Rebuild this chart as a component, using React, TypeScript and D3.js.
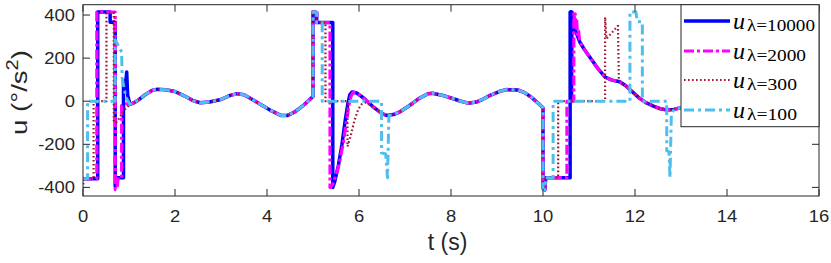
import React from "react";
import * as d3 from "d3";

type Pt = [number, number];

// x / y ticks
const xTicks = [0, 2, 4, 6, 8, 10, 12, 14, 16];
const yTicks = [-400, -200, 0, 200, 400];

// smooth response shared by every controller between the switching events
const baseA: Pt[] = [
  [1.02, -15], [1.1, -8], [1.2, 5], [1.35, 30], [1.5, 50], [1.6, 55], [1.8, 53],
  [2.0, 45], [2.2, 25], [2.4, 2], [2.55, -7], [2.75, -4], [3.0, 8], [3.2, 27],
  [3.35, 35], [3.5, 30], [3.7, 6], [3.9, -20], [4.1, -45], [4.3, -66], [4.45, -66],
  [4.6, -50], [4.8, -18], [4.95, 12], [5.0, 22],
];
const baseB: Pt[] = [
  [5.85, 43], [5.95, 38], [6.1, 15], [6.3, -25], [6.5, -58], [6.6, -66], [6.75, -62],
  [6.9, -48], [7.1, -20], [7.3, 12], [7.5, 35], [7.6, 37], [7.8, 28], [8.0, 15],
  [8.2, 1], [8.37, -9], [8.55, -4], [8.7, 10], [8.85, 27], [9.05, 45], [9.2, 54],
  [9.45, 52], [9.6, 40], [9.75, 18], [9.9, -10], [10.0, -30],
];
const baseC: Pt[] = [
  [10.8, 275], [10.9, 240], [11.0, 210], [11.2, 150], [11.35, 112], [11.5, 98],
  [11.67, 90], [11.8, 72], [11.9, 52], [12.1, 13], [12.25, -8], [12.4, -23],
  [12.55, -35], [12.7, -41], [12.85, -38], [13.0, -30], [13.3, -18], [13.6, -10],
];

// lambda = 10000
const blueStart: Pt[] = [
  [0, -360], [0.32, -360], [0.32, 414], [0.59, 414], [0.59, 366], [0.7, 366], [0.7, -395],
  [0.73, -355], [0.88, -355], [0.88, 95], [0.92, 60], [0.95, 136], [0.97, 30], [1.02, -15],
];
const blueMid: Pt[] = [
  [5.0, 22], [5.0, 415], [5.08, 412], [5.08, 365], [5.43, 365], [5.43, -400], [5.47, -375],
  [5.55, -300], [5.63, -200], [5.7, -90], [5.76, -10], [5.8, 30], [5.85, 43],
];
const blueLate: Pt[] = [
  [10.0, -30], [10.0, -405], [10.04, -412], [10.06, -355], [10.59, -355], [10.59, 414],
  [10.6, 0], [10.61, 414], [10.62, 0], [10.63, 414], [10.65, 380], [10.7, 330], [10.8, 275],
];

// lambda = 2000
const magStart: Pt[] = [
  [0, -360], [0.3, -360], [0.3, 414], [0.7, 414], [0.7, -410], [0.74, -405], [0.76, -360],
  [0.84, -360], [0.84, -20], [0.95, -12], [1.02, -15],
];
const magMid: Pt[] = [
  [5.0, 22], [5.0, 415], [5.08, 412], [5.08, 365], [5.37, 365], [5.37, -400], [5.43, -385],
  [5.5, -345], [5.58, -280], [5.66, -190], [5.73, -90], [5.78, -20], [5.83, 25], [5.88, 42],
];
const magLate: Pt[] = [
  [10.0, -30], [10.0, -405], [10.04, -412], [10.06, -355], [10.52, -355], [10.52, 0],
  [10.67, 0], [10.67, 414], [10.69, 370], [10.7, 405], [10.72, 340], [10.73, 380],
  [10.75, 310], [10.77, 330], [10.8, 275],
];

// lambda = 300
const redStart: Pt[] = [
  [0, -405], [0.01, -365], [0.23, -360], [0.23, 0], [0.51, 0], [0.51, 410], [0.67, 410],
  [0.67, -95], [0.72, -100], [0.8, -75], [0.9, -40], [1.02, -15],
];
const redMid: Pt[] = [
  [5.0, 22], [5.0, 415], [5.08, 412], [5.08, 365], [5.27, 365], [5.27, 0], [5.75, 0],
  [5.75, -210], [5.82, -160], [5.9, -90], [5.98, -40], [6.05, -15], [6.15, -5], [6.3, -25],
];
const redLate: Pt[] = [
  [10.0, -30], [10.0, -405], [10.04, -412], [10.06, -355], [10.33, -355], [10.33, 0],
  [11.35, 0], [11.35, 390], [11.38, 290], [11.63, 350], [11.65, 95], [11.67, 90],
];

// lambda = 100
const cyanStart: Pt[] = [
  [0, -360], [0.1, -360], [0.1, 0], [0.7, 0], [0.7, 285], [0.84, 228], [0.85, 110],
  [0.93, 20], [1.02, -15],
];
const cyanMid: Pt[] = [
  [5.0, 22], [5.0, 415], [5.08, 412], [5.08, 365], [5.2, 365], [5.2, 0], [6.49, 0],
  [6.49, -240], [6.58, -245], [6.62, -355], [6.65, -66],
];
const cyanLate: Pt[] = [
  [10.0, -30], [10.0, -405], [10.04, -412], [10.06, -355], [10.22, -355], [10.22, 0],
  [11.89, 0], [11.89, 414], [12.02, 414], [12.05, 370], [12.16, 368], [12.16, 0],
  [12.69, 0], [12.69, -230], [12.74, -235], [12.76, -355], [12.79, -60], [12.85, -38],
];

const after = (arr: Pt[], t0: number) => arr.filter(([t]) => t > t0);

const series = [
  {
    sub: "λ=10000", color: "#0000ff", width: 3.5, dash: "none",
    data: [...blueStart, ...baseA, ...blueMid, ...baseB, ...blueLate, ...after(baseC, 10.8)],
  },
  {
    sub: "λ=2000", color: "#ff00ff", width: 3.2, dash: "10,3,3,3",
    data: [...magStart, ...baseA, ...magMid, ...after(baseB, 5.88), ...magLate, ...after(baseC, 10.8)],
  },
  {
    sub: "λ=300", color: "#a2142f", width: 2.2, dash: "1.6,2.4",
    data: [...redStart, ...baseA, ...redMid, ...after(baseB, 6.3), ...redLate, ...after(baseC, 11.67)],
  },
  {
    sub: "λ=100", color: "#4dbeee", width: 3, dash: "10,4,3,4",
    data: [...cyanStart, ...baseA, ...cyanMid, ...after(baseB, 6.66), ...cyanLate, ...after(baseC, 12.85)],
  },
];

const W = 831;
const H = 263;
const L = 83, R = 819, T = 4.7, B = 196;
const axisColor = "#262626";
const sans = "'Liberation Sans', Arial, sans-serif";
const serif = "'Liberation Serif', 'Times New Roman', serif";

export default function App() {
  const x = d3.scaleLinear().domain([0, 16]).range([L, R]);
  const y = d3.scaleLinear().domain([-440, 448]).range([B, T]);
  const line = d3.line<Pt>().x((d) => x(d[0])).y((d) => y(d[1]));

  const legX = 681, legY = T, legW = R - 681, legH = 122;
  const rowY = [21, 51, 80, 110];

  return (
    <svg width={W} height={H} style={{ position: "absolute", left: 0, top: 0, background: "#fff" }}>
      <defs>
        <clipPath id="plot">
          <rect x={L} y={T} width={R - L} height={B - T} />
        </clipPath>
      </defs>
      <rect x={0} y={0} width={W} height={H} fill="#fff" />

      <g clipPath="url(#plot)" fill="none" strokeLinejoin="round">
        {series.map((s) => (
          <path key={s.sub} d={line(s.data) || ""} stroke={s.color} strokeWidth={s.width}
            strokeDasharray={s.dash} />
        ))}
      </g>

      {/* box and ticks */}
      <rect x={L} y={T} width={R - L} height={B - T} fill="none" stroke={axisColor} strokeWidth={1} />
      {xTicks.map((t) => (
        <g key={"x" + t}>
          <line x1={x(t)} x2={x(t)} y1={B} y2={B - 7} stroke={axisColor} />
          <line x1={x(t)} x2={x(t)} y1={T} y2={T + 7} stroke={axisColor} />
          <text transform={`translate(${x(t)},222) scale(1.15,1)`} textAnchor="middle"
            fontFamily={sans} fontSize={16} fill={axisColor}>{t}</text>
        </g>
      ))}
      {yTicks.map((t) => (
        <g key={"y" + t}>
          <line x1={L} x2={L + 7} y1={y(t)} y2={y(t)} stroke={axisColor} />
          <line x1={R} x2={R - 7} y1={y(t)} y2={y(t)} stroke={axisColor} />
          <text transform={`translate(75,${y(t) + 6}) scale(1.15,1)`} textAnchor="end"
            fontFamily={sans} fontSize={16} fill={axisColor}>{t}</text>
        </g>
      ))}

      {/* axis labels */}
      <text x={447.5} y={250} textAnchor="middle" fontFamily={sans} fontSize={23} fill={axisColor}>t (s)</text>
      <text transform="translate(27,92.5) rotate(-90) scale(1.25,1)" textAnchor="middle" fontFamily={sans}
        fontSize={22} fill={axisColor}>
        u (°/s<tspan dy={-9} fontSize={16}>2</tspan><tspan dy={9}>)</tspan>
      </text>

      {/* legend */}
      <rect x={legX} y={legY} width={legW} height={legH} fill="#fff" stroke={axisColor} strokeWidth={1} />
      {series.map((s, i) => (
        <g key={"leg" + s.sub}>
          <line x1={684} x2={730} y1={rowY[i]} y2={rowY[i]} stroke={s.color} strokeWidth={s.width}
            strokeDasharray={s.dash} />
          <text x={733} y={rowY[i] + 8} fontFamily={serif} fontStyle="italic" fontSize={24} fill="#000">u</text>
          <text x={747} y={rowY[i] + 10} fontFamily={serif} fontSize={17} fill="#000"
            textLength={23 + 9 * (s.sub.length - 2)} lengthAdjust="spacingAndGlyphs">{s.sub}</text>
        </g>
      ))}
    </svg>
  );
}
